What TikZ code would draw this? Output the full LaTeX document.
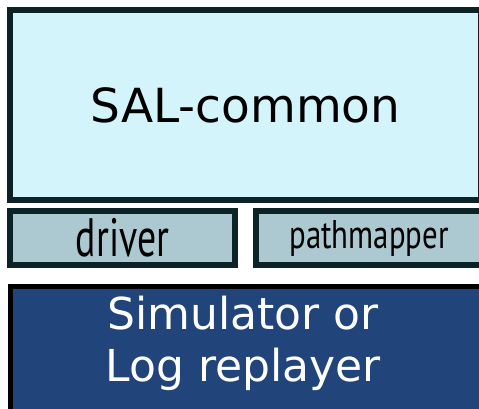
\documentclass[tikz,border=0pt]{standalone}
\usepackage{fontspec}
\setmainfont{DejaVu Sans}
\newfontfamily\condfont[FakeStretch=0.7]{PT Sans}
\newfontfamily\semicondfont[FakeStretch=0.77]{PT Sans}
\usepackage{tikz}

\definecolor{edgedark}{HTML}{0B2326}
\definecolor{commonfill}{HTML}{D4F4FC}
\definecolor{modfill}{HTML}{ACC8D0}
\definecolor{simfill}{HTML}{21457A}

\tikzset{
  layer/.style={draw=edgedark, line width=6pt, rectangle, inner sep=0pt},
  modbox/.style={layer, fill=modfill, minimum height=54pt},
}

\begin{document}
\begin{tikzpicture}[x=1pt, y=-1pt]
    \useasboundingbox (0, 0) rectangle (479, 408);
    \clip (0, 0) rectangle (479, 408);
    \begin{scope}
      % common layer
      \node[layer, fill=commonfill, minimum width=471pt, minimum height=190pt,
        font=\fontsize{47}{50}\selectfont] (common) at (245.5, 105) {SAL-common};
      % modules
      \node[modbox, minimum width=225pt, font=\condfont\fontsize{54}{58}\selectfont]
        (driver) at (122.5, 238) {driver};
      \node[modbox, minimum width=226pt, font=\semicondfont\fontsize{40}{44}\selectfont]
        (mapper) at (369, 238) {pathmapper};
      % simulator
      \node[layer, draw=black, line width=5pt, fill=simfill, minimum width=472pt,
        minimum height=126pt] (sim) at (246, 349) {};
      \node[text=white, align=center, font=\fontsize{44}{52}\selectfont]
        (simlabel) at (243, 343) {Simulator or\\Log replayer};
    \end{scope}
  \end{tikzpicture}
\end{document}
